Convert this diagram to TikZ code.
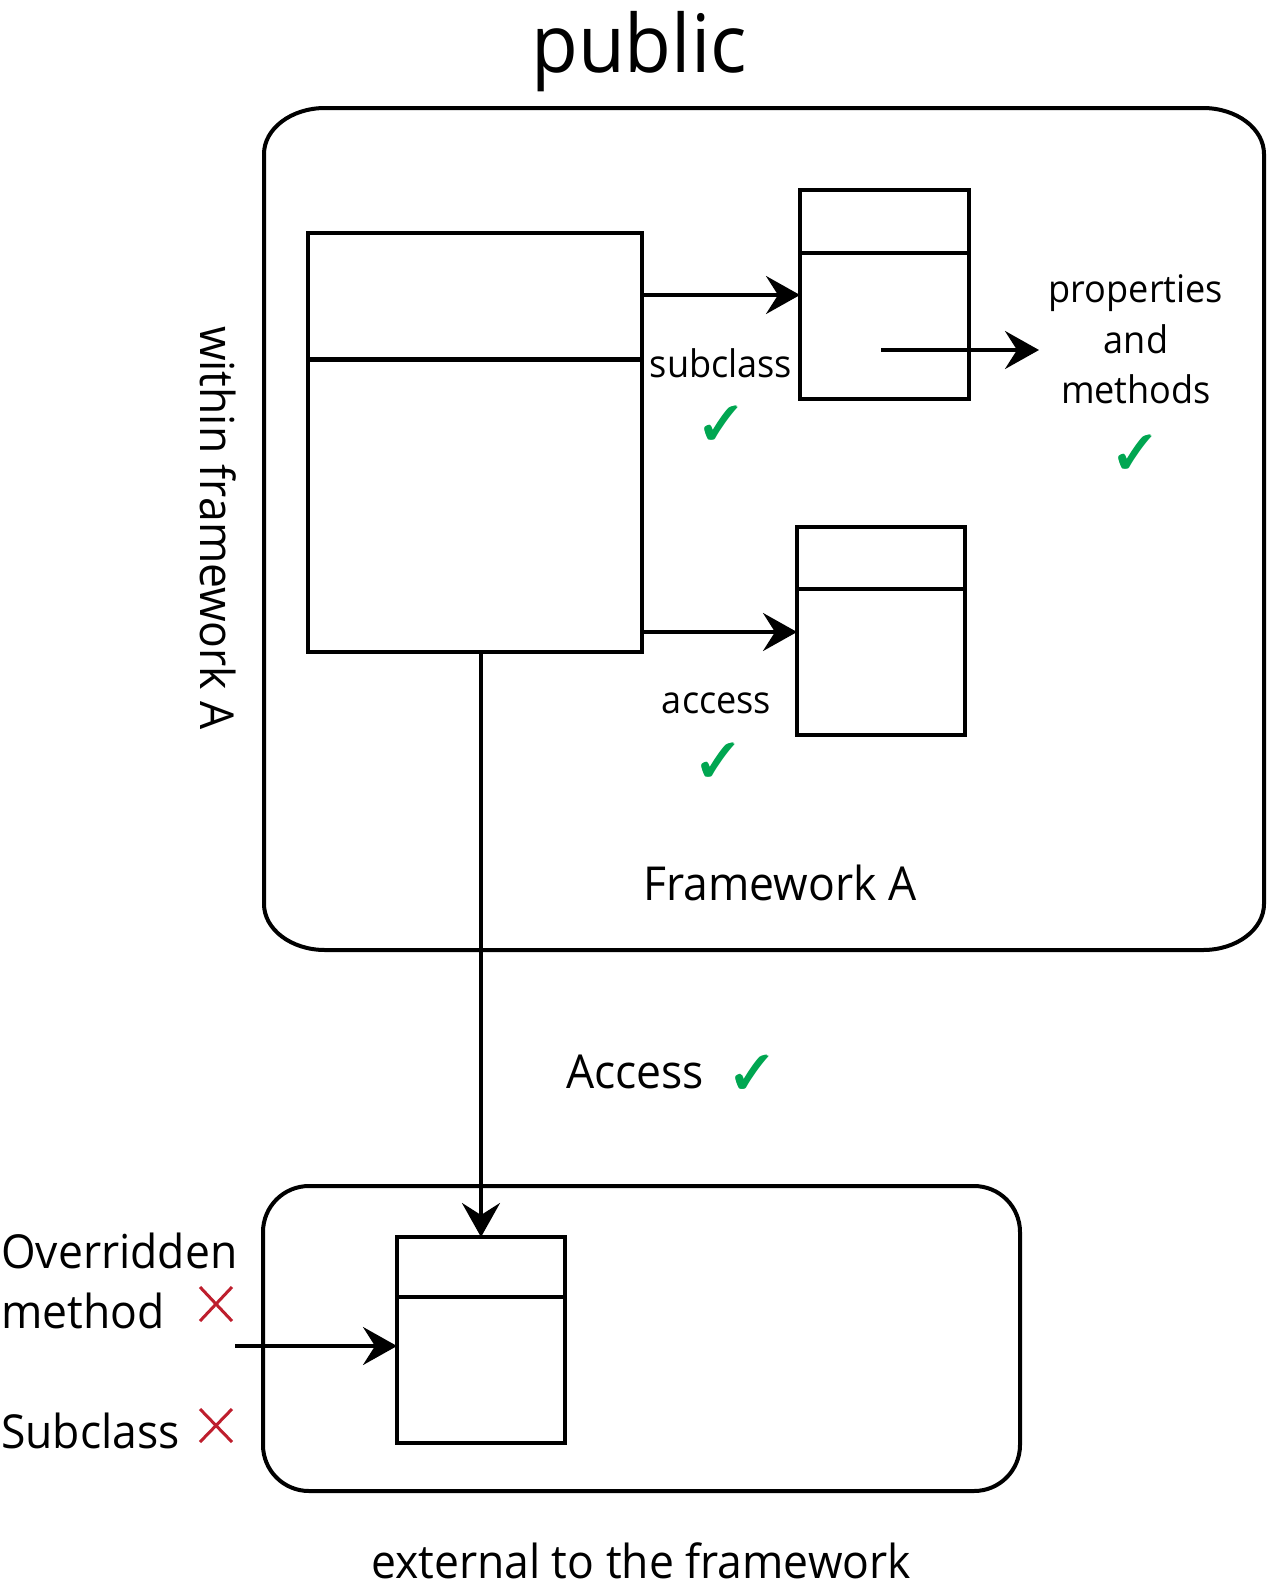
\documentclass[tikz,border=0pt]{standalone}
\usepackage{fontspec}
\setmainfont{Open Sans}[FakeStretch=0.95]
\usepackage{pifont}
\usetikzlibrary{arrows.meta}
\definecolor{okgreen}{RGB}{0,166,81}
\definecolor{nored}{RGB}{190,30,45}
% a slightly bolder check mark, made by overprinting the dingbat
\newcommand\okmark{\rlap{\ding{51}}\rlap{\raisebox{1pt}{\ding{51}}}\rlap{\kern0.8pt\raisebox{0.5pt}{\ding{51}}}\kern1.5pt\ding{51}}

\begin{document}
\begin{tikzpicture}[x=1pt,y=-1pt,
  classbox/.style={draw, line width=3.5pt, inner sep=0pt, outer sep=0pt},
  divider/.style={line width=3.5pt},
  container/.style={line width=4pt},
  conn/.style={line width=3.5pt, -{Stealth[length=34pt,width=38pt,inset=12pt]}},
  small/.style={inner sep=0pt, font=\fontsize{38}{44}\selectfont},
  label/.style={inner sep=0pt, font=\fontsize{46.8}{52}\selectfont},
  tick/.style={inner sep=0pt, text=okgreen, font=\fontsize{46}{46}\selectfont},
  cross/.style={draw=nored, line width=3pt},
]
\useasboundingbox (0,0) rectangle (1267,1591);

% framework container (slightly elliptical corners)
\draw[container] (325,108) -- (1203,108)
  .. controls (1236.7,108) and (1264,128.6) .. (1264,154)
  -- (1264,904)
  .. controls (1264,929.4) and (1236.7,950) .. (1203,950)
  -- (325,950)
  .. controls (291.3,950) and (264,929.4) .. (264,904)
  -- (264,154)
  .. controls (264,128.6) and (291.3,108) .. (325,108) -- cycle;

% external container
\draw[container, rounded corners=46pt] (263,1186) rectangle (1020,1491);

% class boxes
\node[classbox, minimum width=334pt, minimum height=419pt] (main) at (475,442.5) {};
\node[classbox, minimum width=169pt, minimum height=209pt] (sub) at (884.5,294.5) {};
\node[classbox, minimum width=168pt, minimum height=208pt] (acc) at (881,631) {};
\node[classbox, minimum width=168pt, minimum height=206pt] (ext) at (481,1340) {};

\draw[line width=5pt] (main.west |- 0,359) -- (main.east |- 0,359);
\draw[divider] (sub.west |- 0,253) -- (sub.east |- 0,253);
\draw[divider] (acc.west |- 0,589) -- (acc.east |- 0,589);
\draw[divider] (ext.west |- 0,1297) -- (ext.east |- 0,1297);

% connectors
\draw[conn] (main.east |- 0,295) -- (sub.west |- 0,295);
\coordinate (subin) at (881,350);
\coordinate (propstip) at (1039,350);
\draw[conn] (subin) -- (propstip);
\draw[conn] (main.east |- 0,632) -- (acc.west |- 0,632);
\draw[conn] (main.south -| ext.north) -- (ext.north);
\coordinate (ovstart) at (235,1346);
\draw[conn] (ovstart) -- (ext.west |- ovstart);

% texts
\node[inner sep=0pt, anchor=base, font=\fontsize{80.5}{82}\selectfont] (title) at (639,72) {public};
\node[small, anchor=base] (lblsub) at (721,377) {subclass};
\node[tick] (tk1) at (721,423) {\okmark};
\node[small, anchor=base] (p1) at (1136,302) {properties};
\node[small, anchor=base] (p2) at (1136,353) {and};
\node[small, anchor=base] (p3) at (1136,403) {methods};
\node[tick] (tk2) at (1135,452) {\okmark};
\node[small, anchor=base] (lblacc) at (716.5,713) {access};
\node[tick] (tk3) at (718,760) {\okmark};
\node[label, anchor=base] (fwA) at (780,900) {Framework A};
\node[label, anchor=base, rotate=-90] (within) at (200,528) {within framework A};
\node[label, anchor=base] (Acc) at (635,1088) {Access};
\node[tick] (tk4) at (752,1072) {\okmark};
\node[label, anchor=base west] (ov1) at (1,1268) {Overridden};
\node[label, anchor=base west] (ov2) at (1,1328) {method};
\node[label, anchor=base west] (subc) at (1,1448) {Subclass};
\node[label, anchor=base] (extlbl) at (641,1578) {external to the framework};

% denied marks
\draw[cross] (200,1287) -- (232,1321) (200,1321) -- (232,1287);
\draw[cross] (200,1409) -- (232,1442) (200,1442) -- (232,1409);
\end{tikzpicture}
\end{document}
